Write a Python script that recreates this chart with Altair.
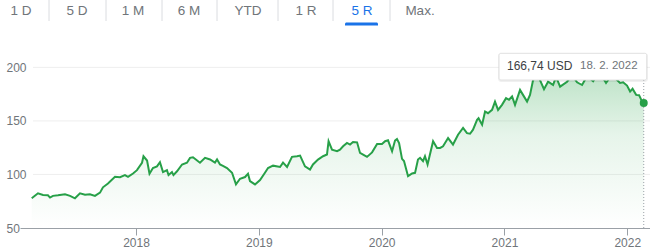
import altair as alt
import pandas as pd

# ---- data (decimal years, price in USD) ----
years = [
    2017.151, 2017.202, 2017.243, 2017.283, 2017.300, 2017.324, 2017.365, 2017.422,
    2017.463, 2017.503, 2017.544, 2017.585, 2017.625, 2017.666, 2017.707, 2017.731,
    2017.772, 2017.829, 2017.870, 2017.910, 2017.935, 2017.976, 2018.008, 2018.049,
    2018.061, 2018.090, 2018.110, 2018.138, 2018.171, 2018.195, 2018.220, 2018.252,
    2018.265, 2018.293, 2018.305, 2018.334, 2018.375, 2018.415, 2018.440, 2018.464,
    2018.521, 2018.562, 2018.603, 2018.643, 2018.660, 2018.684, 2018.708, 2018.741,
    2018.782, 2018.814, 2018.847, 2018.888, 2018.912, 2018.928, 2018.969, 2019.010,
    2019.050, 2019.075, 2019.116, 2019.173, 2019.197, 2019.230, 2019.270, 2019.311,
    2019.336, 2019.376, 2019.417, 2019.441, 2019.482, 2019.523, 2019.555, 2019.568,
    2019.596, 2019.637, 2019.661, 2019.686, 2019.718, 2019.743, 2019.767, 2019.800,
    2019.824, 2019.849, 2019.881, 2019.922, 2019.963, 2020.003, 2020.028, 2020.052,
    2020.085, 2020.109, 2020.125, 2020.142, 2020.166, 2020.182, 2020.215, 2020.248,
    2020.272, 2020.296, 2020.313, 2020.337, 2020.353, 2020.374, 2020.419, 2020.451,
    2020.476, 2020.500, 2020.541, 2020.581, 2020.622, 2020.663, 2020.695, 2020.720,
    2020.744, 2020.777, 2020.789, 2020.818, 2020.842, 2020.866, 2020.899, 2020.923,
    2020.948, 2020.980, 2021.013, 2021.037, 2021.062, 2021.086, 2021.127, 2021.151,
    2021.184, 2021.208, 2021.233, 2021.274, 2021.322, 2021.355, 2021.396, 2021.420,
    2021.453, 2021.510, 2021.550, 2021.591, 2021.632, 2021.673, 2021.722, 2021.762,
    2021.803, 2021.827, 2021.868, 2021.909, 2021.941, 2021.966, 2021.998, 2022.023,
    2022.043, 2022.072, 2022.096, 2022.121, 2022.134,
]
prices = [
    77.7, 82.4, 80.8, 80.5, 78.4, 80.0, 80.5, 81.4,
    80.0, 77.7, 82.4, 81.0, 81.5, 80.0, 83.0, 88.0,
    91.6, 97.8, 97.5, 99.4, 97.7, 100.9, 104.0, 110.9,
    117.0, 113.0, 100.6, 106.0, 107.5, 111.4, 102.2, 104.0,
    99.4, 102.2, 99.4, 103.0, 109.3, 111.0, 115.5, 116.1,
    111.0, 115.5, 114.0, 111.0, 114.0, 109.3, 108.0, 106.0,
    101.6, 90.7, 96.0, 97.6, 100.7, 93.8, 90.7, 94.7,
    101.6, 106.0, 108.2, 107.0, 111.0, 107.0, 116.4, 117.0,
    117.6, 107.6, 104.6, 109.3, 113.9, 117.0, 118.6, 131.0,
    123.2, 121.7, 123.2, 126.3, 129.4, 127.9, 130.3, 130.0,
    120.1, 118.6, 116.4, 120.6, 128.5, 128.5, 131.0, 131.9,
    121.6, 131.6, 133.1, 129.4, 114.6, 112.5, 98.4, 100.9,
    101.5, 113.9, 115.5, 112.4, 117.0, 109.3, 131.0, 124.8,
    124.8, 126.3, 134.0, 127.9, 137.1, 143.4, 138.6, 138.0,
    141.8, 151.0, 152.5, 146.4, 158.8, 157.2, 160.3, 168.0,
    160.3, 165.0, 171.2, 169.7, 172.8, 165.0, 178.9, 174.3,
    168.0, 174.3, 188.2, 192.0, 179.6, 186.6, 183.6, 191.0,
    182.0, 186.6, 193.0, 186.0, 183.5, 192.0, 187.0, 194.0,
    190.0, 185.5, 192.0, 189.0, 185.5, 186.0, 183.0, 177.4,
    180.0, 174.3, 174.0, 168.0, 166.74,
]
year_ticks = [2018, 2019, 2020, 2021, 2022]
price_ticks = [50, 100, 150, 200]
grid_values = [100, 150, 200]
tab_labels = ["1 D", "5 D", "1 M", "6 M", "YTD", "1 R", "5 R", "Max."]
active_tab = "5 R"
last_price_label = "166,74 USD"
last_date_label = "18. 2. 2022"

df = pd.DataFrame({"t": years, "p": prices})
last = df.tail(1)

FONT = "Liberation Sans"
GREEN = "#27a048"
GRAY = "#70757a"

W, H = 630, 193
PAD_L, PAD_T = 20, 35

xs = alt.Scale(domain=[2017.0556, 2022.185], nice=False, zero=False)
ys = alt.Scale(domain=[50, 230.2], nice=False, zero=False)
xax = alt.Axis(values=year_ticks, format="d", title=None, grid=False,
               domainColor="#9aa0a6", tickColor="#9aa0a6", tickSize=7,
               labelPadding=2, labelColor=GRAY, labelFontSize=12, labelFont=FONT,
               labelFlush=False)
yax = alt.Axis(values=price_ticks, title=None, grid=False, domain=False, ticks=False,
               labelAlign="left", labelPadding=14, labelColor=GRAY, labelFontSize=12,
               labelFont=FONT, labelBaseline="middle")

X = alt.X("t:Q", scale=xs, axis=xax)
Y = alt.Y("p:Q", scale=ys, axis=yax)

grid = alt.Chart(pd.DataFrame({"p": grid_values})).mark_rule(
    color="#eeeeee", strokeWidth=1).encode(y=Y, x=alt.value(13), x2=alt.value(W))

area = alt.Chart(df).mark_area(
    line=False,
    color=alt.Gradient(
        gradient="linear", x1=0, x2=0, y1=0, y2=1,
        stops=[alt.GradientStop(color="rgba(52,168,83,0.32)", offset=0),
               alt.GradientStop(color="rgba(52,168,83,0.12)", offset=0.4),
               alt.GradientStop(color="rgba(52,168,83,0.0)", offset=1)])
).encode(x=X, y=Y, y2=alt.datum(50))

line = alt.Chart(df).mark_line(color=GREEN, strokeWidth=2, interpolate="linear").encode(x=X, y=Y)

tip_y = 45
vrule = alt.Chart(last).mark_rule(color="#9aa0a6", strokeWidth=1, strokeDash=[1, 2]).encode(
    x=X, y=alt.value(tip_y), y2=alt.value(H))

dot = alt.Chart(last).mark_point(filled=True, color=GREEN, size=64, opacity=1).encode(x=X, y=Y)

shadow = alt.Chart(last).mark_rect(fill="#000000", opacity=0.06, cornerRadius=3).encode(
    x=alt.value(478), x2=alt.value(628), y=alt.value(18), y2=alt.value(47))
box = alt.Chart(last).mark_rect(fill="white", stroke="#e0e0e0", strokeWidth=1, cornerRadius=2).encode(
    x=alt.value(479), x2=alt.value(626.7), y=alt.value(18.3), y2=alt.value(tip_y))
tip1 = alt.Chart(last).mark_text(text=last_price_label, align="left", baseline="middle",
                                 font=FONT, fontSize=12, color="#3c4043").encode(
    x=alt.value(487), y=alt.value(30.7))
tip2 = alt.Chart(last).mark_text(text=last_date_label, align="left", baseline="middle",
                                 font=FONT, fontSize=11.5, color=GRAY).encode(
    x=alt.value(560), y=alt.value(30.7))

# tab bar above the chart
tab_centers = [21, 77, 133, 189, 248, 306, 362, 420]
sep_xs = [49, 106, 162, 217, 278, 333, 390]
layers = [grid, area, line, vrule, dot, shadow, box, tip1, tip2]
for lab, cx in zip(tab_labels, tab_centers):
    layers.append(alt.Chart(pd.DataFrame({"tab": [lab]})).mark_text(
        align="center", baseline="middle", font=FONT, fontSize=13.5,
        color="#1a73e8" if lab == active_tab else GRAY).encode(
        text="tab:N", x=alt.value(cx - PAD_L), y=alt.value(11 - PAD_T)))
for sx in sep_xs:
    layers.append(alt.Chart(last).mark_rule(color="#dadce0", strokeWidth=1).encode(
        x=alt.value(sx - PAD_L), y=alt.value(0 - PAD_T), y2=alt.value(21 - PAD_T)))
active_cx = tab_centers[tab_labels.index(active_tab)]
layers.append(alt.Chart(last).mark_rect(color="#1a73e8", cornerRadiusTopLeft=3,
                                        cornerRadiusTopRight=3).encode(
    x=alt.value(active_cx - 17 - PAD_L), x2=alt.value(active_cx + 16 - PAD_L),
    y=alt.value(22.5 - PAD_T), y2=alt.value(25.5 - PAD_T)))

chart = alt.layer(*layers).properties(
    width=W, height=H,
    autosize=alt.AutoSizeParams(type="none"),
    padding={"left": PAD_L, "top": PAD_T, "right": 0, "bottom": 251 - PAD_T - H},
    background="white",
).configure_view(stroke=None)

chart.save("out.html", embed_options={"renderer": "svg", "actions": False})
